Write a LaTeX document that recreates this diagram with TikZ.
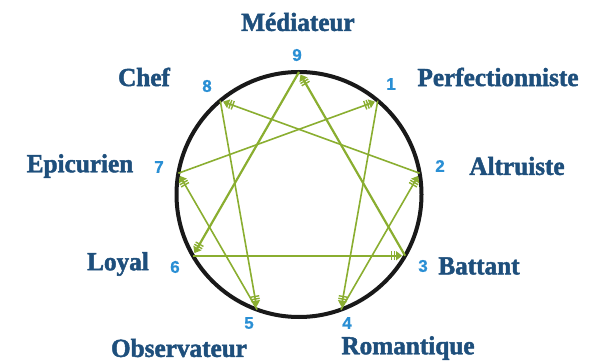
\documentclass[tikz,border=0pt]{standalone}
\usepackage{fontspec}
\setmainfont{Liberation Serif}
\newfontfamily\lblfont[FakeStretch=0.97,FakeBold=1.8]{Liberation Serif Bold}
\newfontfamily\numfont[FakeBold=0.6]{Liberation Sans Bold}
\usetikzlibrary{arrows.meta}
\definecolor{lblblue}{HTML}{1E4F7C}
\definecolor{numblue}{HTML}{2A8FD4}
\definecolor{enngreen}{HTML}{8AAE30}
\begin{document}
\begin{tikzpicture}[x=1pt,y=-1pt,
  lbl/.style={text=lblblue,font=\lblfont\fontsize{26}{26}\selectfont,inner sep=0pt},
  num/.style={text=numblue,font=\numfont\fontsize{17}{17}\selectfont,inner sep=0pt},
  enn/.style={draw=enngreen,line width=1.6pt,shorten >=3pt,
    -{Bar[width=9pt,line width=1.4pt,sep=1.2pt]Bar[width=9pt,line width=1.4pt,sep=1pt]Triangle[length=6pt,width=9pt]}},
  tri/.style={enn,line width=2.2pt}
]
\useasboundingbox (0,0) rectangle (595,361);
\def\cx{299}\def\cy{194.5}\def\r{122.5}
\draw[line width=4pt,black!90] (\cx,\cy) circle[radius=\r];
\foreach \k in {0,...,8}{
  \pgfmathsetmacro\ang{90-40*\k}
  \coordinate (p\k) at ({\cx+\r*cos(\ang)},{\cy-\r*sin(\ang)});
}
% p0 = 9, p1 = 1, ...
\draw[enn] (p1) -- (p4);
\draw[enn] (p4) -- (p2);
\draw[enn] (p2) -- (p8);
\draw[enn] (p8) -- (p5);
\draw[enn] (p5) -- (p7);
\draw[enn] (p7) -- (p1);
\draw[tri] (p0) -- (p6);
\draw[tri] (p6) -- (p3);
\draw[tri] (p3) -- (p0);

\node[lbl] (l9) at (298,22) {Médiateur};
\node[num] (n9) at (297,55) {9};
\node[lbl] (l8) at (144,77) {Chef};
\node[num] (n8) at (207,86) {8};
\node[num] (n1) at (391,84) {1};
\node[lbl] (l1) at (498,77) {Perfectionniste};
\node[lbl] (l7) at (80,166) {Epicurien};
\node[num] (n7) at (159,167) {7};
\node[num] (n2) at (440,166) {2};
\node[lbl] (l2) at (517,166) {Altruiste};
\node[lbl] (l6) at (118,264) {Loyal};
\node[num] (n6) at (175,267) {6};
\node[num] (n3) at (423,266) {3};
\node[lbl] (l3) at (479,266) {Battant};
\node[num] (n5) at (249,323) {5};
\node[lbl] (l5) at (179,348) {Observateur};
\node[num] (n4) at (347,323) {4};
\node[lbl] (l4) at (408,348) {Romantique};
\end{tikzpicture}
\end{document}
